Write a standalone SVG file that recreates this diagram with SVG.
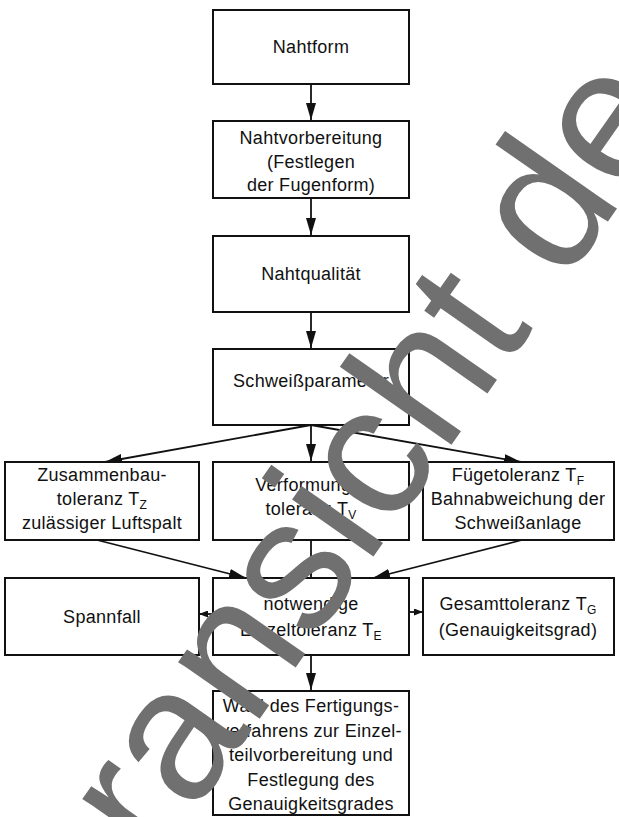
<svg xmlns="http://www.w3.org/2000/svg" width="619" height="817" viewBox="0 0 619 817">
<style>
.box{fill:#fff;stroke:#111;stroke-width:2}
.t{font-family:"Liberation Sans",Arial,Helvetica,sans-serif;font-size:18px;letter-spacing:0.3px;fill:#111;text-anchor:middle}
.sub{font-size:12px}
.c{stroke:#111;stroke-width:1.8;fill:none}
.wm{font-family:"Liberation Sans",Arial,sans-serif;font-size:188px;fill:#707070}
</style>
<defs>
<marker id="ah" markerUnits="userSpaceOnUse" markerWidth="17" markerHeight="10" viewBox="0 0 17 10" refX="17" refY="5" orient="auto"><path d="M0,0 L17,5 L0,10 z" fill="#111"/></marker>
<marker id="as" markerUnits="userSpaceOnUse" markerWidth="9" markerHeight="7" viewBox="0 0 9 7" refX="9" refY="3.5" orient="auto"><path d="M0,0 L9,3.5 L0,7 z" fill="#111"/></marker>
</defs>
<rect width="619" height="817" fill="#fff"/>
<g id="connectors">
<line class="c" x1="311" y1="84" x2="311" y2="120" marker-end="url(#ah)"/>
<line class="c" x1="311" y1="198" x2="311" y2="235" marker-end="url(#ah)"/>
<line class="c" x1="311" y1="312" x2="311" y2="348" marker-end="url(#ah)"/>
<line class="c" x1="311" y1="425" x2="311" y2="461" marker-end="url(#ah)"/>
<line class="c" x1="311" y1="425" x2="105" y2="462" marker-end="url(#ah)"/>
<line class="c" x1="311" y1="425" x2="521" y2="462" marker-end="url(#ah)"/>
<line class="c" x1="97" y1="540" x2="246" y2="578" marker-end="url(#ah)"/>
<line class="c" x1="311" y1="540" x2="311" y2="577" marker-end="url(#ah)"/>
<line class="c" x1="522" y1="540" x2="373" y2="578" marker-end="url(#ah)"/>
<line class="c" x1="213" y1="614" x2="199" y2="614" marker-end="url(#as)"/>
<line class="c" x1="409" y1="612" x2="423" y2="612" marker-end="url(#as)"/>
<line class="c" x1="311" y1="655" x2="311" y2="690" marker-end="url(#ah)"/>
</g>
<g id="n1"><rect class="box" x="213" y="10" width="196" height="74"/><text class="t" x="311" y="53">Nahtform</text></g>
<g id="n2"><rect class="box" x="213" y="121" width="196" height="77"/><text class="t" x="311" y="144">Nahtvorbereitung</text><text class="t" x="311" y="168">(Festlegen</text><text class="t" x="311" y="191">der Fugenform)</text></g>
<g id="n3"><rect class="box" x="213" y="236" width="196" height="76"/><text class="t" x="311" y="280">Nahtqualität</text></g>
<g id="n4"><rect class="box" x="213" y="349" width="196" height="76"/><text class="t" x="311" y="387">Schweißparameter</text></g>
<g id="n5"><rect class="box" x="5" y="462" width="194" height="78"/><text class="t" x="102" y="481">Zusammenbau-</text><text class="t" x="102" y="505">toleranz T<tspan class="sub" dy="4">Z</tspan></text><text class="t" x="102" y="529">zulässiger Luftspalt</text></g>
<g id="n6"><rect class="box" x="213" y="462" width="196" height="78"/><text class="t" x="311" y="491">Verformungs-</text><text class="t" x="311" y="515">toleranz T<tspan class="sub" dy="4">V</tspan></text></g>
<g id="n7"><rect class="box" x="423" y="462" width="191" height="78"/><text class="t" x="518" y="481">Fügetoleranz T<tspan class="sub" dy="4">F</tspan></text><text class="t" x="518" y="505">Bahnabweichung der</text><text class="t" x="518" y="529">Schweißanlage</text></g>
<g id="n8"><rect class="box" x="5" y="578" width="194" height="77"/><text class="t" x="102" y="623">Spannfall</text></g>
<g id="n9"><rect class="box" x="213" y="578" width="196" height="77"/><text class="t" x="311" y="610">notwendige</text><text class="t" x="311" y="636">Einzeltoleranz T<tspan class="sub" dy="4">E</tspan></text></g>
<g id="n10"><rect class="box" x="423" y="578" width="191" height="77"/><text class="t" x="518" y="610">Gesamttoleranz T<tspan class="sub" dy="4">G</tspan></text><text class="t" x="518" y="636">(Genauigkeitsgrad)</text></g>
<g id="n11"><rect class="box" x="213" y="691" width="196" height="124"/><text class="t" x="311" y="712">Wahl des Fertigungs-</text><text class="t" x="311" y="737">verfahrens zur Einzel-</text><text class="t" x="311" y="761">teilvorbereitung und</text><text class="t" x="311" y="786">Festlegung des</text><text class="t" x="311" y="810">Genauigkeitsgrades</text></g>
<g id="watermark"><text class="wm" transform="translate(198,807) rotate(-55)" x="-292" y="0">Voransicht de</text></g>
</svg>
